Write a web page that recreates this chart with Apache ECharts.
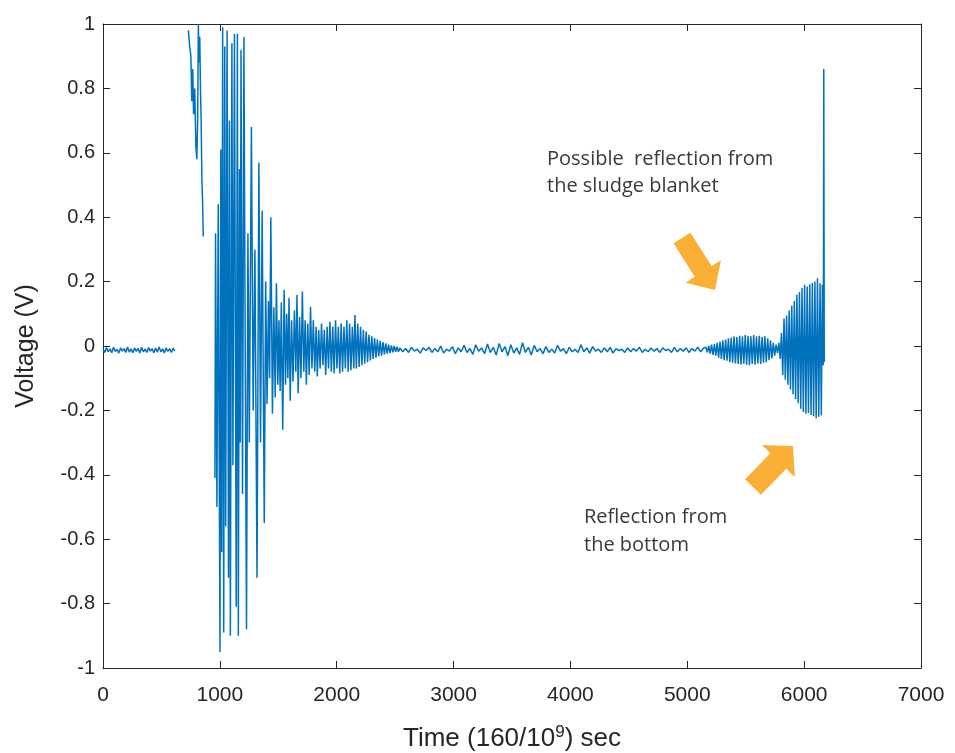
<!DOCTYPE html>
<html><head><meta charset="utf-8">
<script src="https://cdn.jsdelivr.net/npm/echarts@6/dist/echarts.min.js"></script>
<style>html,body{margin:0;padding:0;background:#fff}#c{width:955px;height:753px}</style>
</head><body><div id="c"></div>
<script>
// ---- axis settings ----
const xRange = [0, 7000], xStep = 1000;
const yRange = [-1, 1], yStep = 0.2;

// ---- data: time (160/10^9 s) and voltage (V) ----
// quiet baseline before the transmit pulse
const preTime = [0,15,30,45,60,75,90,105,120,135,150,165,180,195,210,225,240,255,270,285,300,315,330,345,360,375,390,405,420,435,450,465,480,495,510,525,540,555,570,585,600,615];
const preVolt = [-0.008,-0.020,-0.005,-0.018,-0.009,-0.021,-0.004,-0.017,-0.010,-0.022,-0.006,-0.016,-0.008,-0.020,-0.003,-0.019,-0.009,-0.021,-0.006,-0.017,-0.007,-0.022,-0.004,-0.018,-0.010,-0.020,-0.005,-0.016,-0.008,-0.021,-0.006,-0.019,-0.003,-0.018,-0.009,-0.022,-0.006,-0.017,-0.008,-0.020,-0.007,-0.015];
// saturated part of the pulse visible under the top limit
const satTime = [730,742,752,760,768,775,785,795,803,810,816,822,828,834,840,846,852,858];
const satVolt = [0.98,0.93,0.90,0.76,0.86,0.72,0.80,0.62,0.58,0.70,1.00,0.88,0.96,0.80,0.70,0.52,0.45,0.34];
// ring-down of the transducer
const ringTime = [958,963,975,986,1001,1008,1016,1024,1033,1042,1050,1062,1074,1082,1090,1103,1112,1125,1140,1150,1158,1168,1174,1181,1194,1206,1218,1228,1240,1252,1270,1285,1300,1318,1334,1348,1362,1380,
  1392,1404,1416,1426,1436,1450,1462,1474,1484,1496,1506,1516,1526,1538,1550,1562,1572,1582,1592,1602,1614,1626,1638,1650,1660,1670,1682,1694,1706,1718,1730,1740,1752,1764,1776,1788,1800,1812,1824,1834,1846,1858,1870,1882,1894,1906,1918,1930,1942,1954,1966,1978,1990,2002,2014,2026,2038,2050,2062,2074,2086,2098,2110,2122,2134,2146,2156,2168,2180,2192,2204,2216,2228,2240,2252,2264,2276,2288,2300,2312,2324,2336,2348,2360,2372,2384,2396,2408,2420,2432,2444,2456,2468,2480,2492,2504,2516,2528];
const ringVolt = [-0.41,0.35,-0.50,0.44,-0.95,0.61,-0.64,0.99,-0.89,0.93,-0.56,0.98,-0.72,0.70,-0.90,0.94,-0.37,0.97,-0.81,0.97,-0.90,0.55,-0.30,0.92,-0.46,0.96,-0.10,-0.88,0.35,-0.30,0.68,-0.20,0.30,-0.72,0.57,-0.30,0.42,-0.55,
  0.20,-0.18,0.14,-0.10,0.40,-0.21,0.12,-0.16,0.195,-0.12,0.08,-0.14,0.135,-0.26,0.174,-0.12,0.10,-0.10,0.15,-0.17,0.08,-0.11,0.11,-0.08,0.158,-0.147,0.09,-0.10,0.169,-0.08,0.08,-0.12,0.07,-0.09,0.122,-0.07,0.08,-0.08,0.06,-0.095,0.05,-0.07,0.07,-0.06,0.05,-0.09,0.06,-0.07,0.075,-0.08,0.06,-0.085,0.08,-0.07,0.06,-0.085,0.07,-0.08,0.06,-0.07,0.08,-0.08,0.07,-0.075,0.06,-0.07,0.096,-0.07,0.07,-0.065,0.06,-0.06,0.05,-0.055,0.045,-0.05,0.035,-0.045,0.03,-0.04,0.025,-0.036,0.02,-0.032,0.016,-0.03,0.012,-0.026,0.008,-0.024,0.004,-0.022,0.002,-0.02,0.0,-0.018,-0.002,-0.018];
// quiet water column
const quietTime = [2540,2565,2590,2615,2640,2665,2690,2715,2740,2765,
  2790,2815,2840,2865,2890,2915,2940,2965,2990,3015,
  3040,3065,3090,3115,3140,3165,3190,3215,3240,3265,
  3290,3315,3340,3365,3390,3415,3440,3465,3490,3515,
  3540,3565,3590,3615,3640,3665,3690,3715,3740,3765,
  3790,3815,3840,3865,3890,3915,3940,3965,3990,4015,
  4040,4065,4090,4115,4140,4165,4190,4215,4240,4265,
  4290,4315,4340,4365,4390,4415,4440,4465,4490,4515,
  4540,4565,4590,4615,4640,4665,4690,4715,4740,4765,
  4790,4815,4840,4865,4890,4915,4940,4965,4990,5015,
  5040,5065,5090,5115,5140];
const quietVolt = [-0.006,-0.018,-0.008,-0.020,-0.004,-0.016,-0.010,-0.022,-0.006,-0.014,
  -0.004,-0.020,-0.008,-0.018,0.000,-0.022,-0.010,-0.016,-0.002,-0.024,
  -0.006,-0.018,0.002,-0.020,-0.008,-0.026,0.004,-0.016,-0.006,-0.024,
  0.006,-0.020,-0.004,-0.028,0.008,-0.018,-0.002,-0.030,0.004,-0.022,
  -0.006,-0.026,0.010,-0.020,-0.004,-0.028,0.002,-0.018,-0.008,-0.024,
  -0.002,-0.020,-0.010,-0.022,0.002,-0.016,-0.008,-0.024,-0.004,-0.018,
  -0.010,-0.020,0.004,-0.018,-0.006,-0.022,-0.002,-0.016,-0.010,-0.020,
  -0.006,-0.018,-0.004,-0.022,-0.008,-0.014,-0.010,-0.020,-0.006,-0.018,
  -0.008,-0.016,-0.004,-0.020,-0.010,-0.018,-0.006,-0.016,-0.008,-0.020,
  -0.006,-0.014,-0.010,-0.020,-0.004,-0.018,-0.008,-0.016,-0.006,-0.020,
  -0.008,-0.016,-0.004,-0.018,-0.006];
// possible reflection from the sludge blanket
const sludgeTime = [5160,5172,5184,5196,5208,5220,5232,5244,5256,5268,5280,5292,5304,5316,5328,5340,5352,5364,5376,5388,5400,5412,5424,5436,5448,5460,5472,5484,5496,5508,5520,5532,5544,5556,5568,5580,5592,5604,5616,5628,5640,5652,5664,5676,5688,5700,5712,5724,5736,5748,5760,5772];
const sludgeVolt = [-0.004,-0.020,0.000,-0.024,0.004,-0.028,0.006,-0.030,0.010,-0.036,0.014,-0.040,0.018,-0.044,0.020,-0.046,0.024,-0.050,0.026,-0.052,0.030,-0.054,0.028,-0.056,0.032,-0.058,0.030,-0.055,0.034,-0.058,0.032,-0.060,0.030,-0.056,0.034,-0.058,0.030,-0.054,0.032,-0.056,0.028,-0.052,0.030,-0.050,0.024,-0.044,0.018,-0.038,0.010,-0.030,0.004,-0.022];
// reflection from the bottom
const bottomTime = [5784,5795,5806,5817,5828,5839,5850,5861,5872,5883,5894,5905,5916,5927,5938,5949,5960,5971,5982,5993,6004,6015,6026,6037,6048,6059,6070,6081,6092,6103,6114,6125,6136,6147,6156,6164,6168,6172];
const bottomVolt = [0.010,-0.040,0.040,-0.090,0.085,-0.105,0.095,-0.120,0.110,-0.135,0.125,-0.150,0.140,-0.165,0.160,-0.178,0.168,-0.195,0.180,-0.205,0.190,-0.210,0.185,-0.208,0.192,-0.214,0.196,-0.218,0.200,-0.224,0.210,-0.220,0.195,-0.215,0.190,-0.060,0.860,-0.050];

// ---- annotation texts ----
const noteSludge = ['Possible  reflection from', 'the sludge blanket'];
const noteBottom = ['Reflection from', 'the bottom'];

// build the series data (gaps where the pulse leaves the visible range)
function pairs(t, v) { return t.map((x, i) => [x, v[i]]); }
const GAP = [[650, '-']];
const GAP2 = [[900, '-']];
const signal = [].concat(
  pairs(preTime, preVolt), GAP,
  pairs(satTime, satVolt), GAP2,
  pairs(ringTime, ringVolt),
  pairs(quietTime, quietVolt),
  pairs(sludgeTime, sludgeVolt),
  pairs(bottomTime, bottomVolt)
);

function arrowPts(tx, ty, hx, hy, sw, hw, hl) {
  const dx = hx - tx, dy = hy - ty, L = Math.hypot(dx, dy);
  const ux = dx / L, uy = dy / L, px = -uy, py = ux;
  const bx = hx - ux * hl, by = hy - uy * hl;
  return [[tx + px * sw, ty + py * sw], [bx + px * sw, by + py * sw], [bx + px * hw, by + py * hw],
          [hx, hy], [bx - px * hw, by - py * hw], [bx - px * sw, by - py * sw], [tx - px * sw, ty - py * sw]];
}

const AX = '#262626';
const FONT = '"Liberation Sans", Arial, Helvetica, sans-serif';
const NOTEFONT = '"Open Sans", "Noto Sans", sans-serif';

const chart = echarts.init(document.getElementById('c'), null, { renderer: 'canvas' });
const noteStyle = { fill: '#3a3a3a', font: '20px ' + NOTEFONT, verticalAlign: 'middle' };
chart.setOption({
  animation: false,
  backgroundColor: '#ffffff',
  grid: { left: 103, right: 34, top: 24, bottom: 85, containLabel: false, outerBoundsMode: 'none' },
  xAxis: [{
    type: 'value', min: xRange[0], max: xRange[1], interval: xStep, position: 'bottom',
    name: 'Time (160/10{sup|9}) sec', nameLocation: 'middle', nameGap: 56,
    nameTextStyle: { fontSize: 26, color: AX, fontFamily: FONT, lineHeight: 30,
      rich: { sup: { fontSize: 17, fontFamily: FONT, color: AX, verticalAlign: 'top', lineHeight: 15 } } },
    axisLine: { show: true, onZero: false, lineStyle: { color: AX, width: 1 } },
    axisTick: { show: true, inside: true, length: 7, lineStyle: { color: AX } },
    axisLabel: { fontSize: 21, color: AX, fontFamily: FONT, margin: 17, formatter: v => String(v) },
    splitLine: { show: false }
  }, {
    type: 'value', min: xRange[0], max: xRange[1], interval: xStep, position: 'top',
    axisLine: { show: true, onZero: false, lineStyle: { color: AX, width: 1 } },
    axisTick: { show: true, inside: true, length: 7, lineStyle: { color: AX } },
    axisLabel: { show: false }, splitLine: { show: false }
  }],
  yAxis: [{
    type: 'value', min: yRange[0], max: yRange[1], interval: yStep, position: 'left',
    name: 'Voltage (V)', nameLocation: 'middle', nameGap: 64,
    nameTextStyle: { fontSize: 25, color: AX, fontFamily: FONT },
    axisLine: { show: true, onZero: false, lineStyle: { color: AX, width: 1 } },
    axisTick: { show: true, inside: true, length: 7, lineStyle: { color: AX } },
    axisLabel: { fontSize: 20, color: AX, fontFamily: FONT, margin: 8 },
    splitLine: { show: false }
  }, {
    type: 'value', min: yRange[0], max: yRange[1], interval: yStep, position: 'right',
    axisLine: { show: true, onZero: false, lineStyle: { color: AX, width: 1 } },
    axisTick: { show: true, inside: true, length: 7, lineStyle: { color: AX } },
    axisLabel: { show: false }, splitLine: { show: false }
  }],
  series: [{
    type: 'line', xAxisIndex: 0, yAxisIndex: 0, data: signal,
    showSymbol: false, symbol: 'none', connectNulls: false, clip: true,
    lineStyle: { color: '#0072BD', width: 1.5 }
  }],
  graphic: [
    { type: 'text', x: 547, y: 159, style: Object.assign({ text: noteSludge[0] }, noteStyle) },
    { type: 'text', x: 547, y: 186, style: Object.assign({ text: noteSludge[1] }, noteStyle) },
    { type: 'text', x: 584, y: 517, style: Object.assign({ text: noteBottom[0] }, noteStyle) },
    { type: 'text', x: 584, y: 545, style: Object.assign({ text: noteBottom[1] }, noteStyle) },
    { type: 'polygon', shape: { points: arrowPts(682, 238, 715, 290, 10, 21, 22) }, style: { fill: '#F9B035' } },
    { type: 'polygon', shape: { points: arrowPts(753, 487, 793, 446, 11, 23, 21) }, style: { fill: '#F9B035' } }
  ]
});
</script>
</body></html>
